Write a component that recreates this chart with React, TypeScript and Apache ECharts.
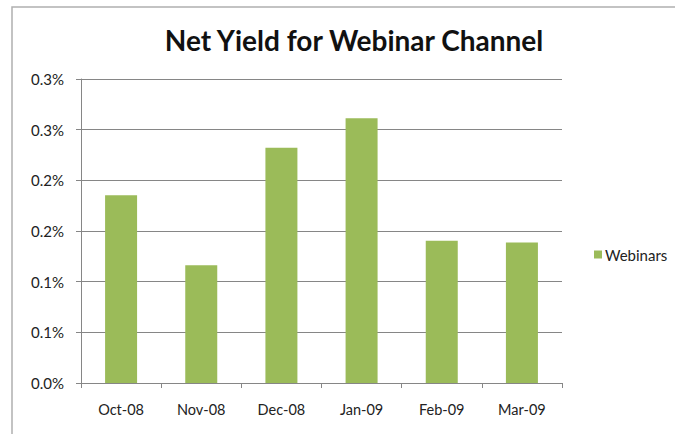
import React, { useEffect, useRef } from "react";
import * as echarts from "echarts";

const categories = ["Oct-08", "Nov-08", "Dec-08", "Jan-09", "Feb-09", "Mar-09"];
const webinarValues = [0.1854, 0.1163, 0.2321, 0.2612, 0.1403, 0.1387];
const seriesName = "Webinars";
const titleText = "Net Yield for Webinar Channel";

export default function App() {
  const ref = useRef<HTMLDivElement>(null);
  useEffect(() => {
    if (!ref.current) return;
    const chart = echarts.init(ref.current, null, { renderer: "svg" });
    const fontFamily = "Lato, 'Open Sans', 'DejaVu Sans', sans-serif";
    chart.setOption({
      animation: false,
      backgroundColor: "#ffffff",
      title: {
        text: titleText,
        left: 349,
        top: 21,
        textAlign: "center",
        textStyle: { fontFamily, fontWeight: "bold", fontSize: 28, color: "#111" },
      },
      legend: {
        orient: "vertical",
        left: 589,
        top: 242,
        itemWidth: 8,
        itemHeight: 8,
        itemGap: 4,
        icon: "rect",
        textStyle: { fontFamily, fontSize: 15, color: "#222", padding: [0, 0, 0, -2] },
        data: [seriesName],
      },
      grid: { left: 81, right: 113, top: 79, bottom: 51, containLabel: false },
      xAxis: {
        type: "category",
        data: categories,
        boundaryGap: true,
        axisLine: { show: true, lineStyle: { color: "#868686", width: 1 } },
        axisTick: { show: true, length: 5, alignWithLabel: false, lineStyle: { color: "#868686" } },
        axisLabel: { fontFamily, fontSize: 14.5, color: "#222", margin: 19 },
        splitLine: { show: false },
      },
      yAxis: {
        type: "value",
        min: 0,
        max: 0.3,
        interval: 0.05,
        axisLine: { show: true, lineStyle: { color: "#868686", width: 1 } },
        axisTick: { show: true, length: 5, inside: false, lineStyle: { color: "#868686" } },
        axisLabel: {
          fontFamily,
          fontSize: 15,
          color: "#222",
          margin: 17,
          formatter: (v: number) => (Math.round(v * 10 + 1e-9) / 10).toFixed(1) + "%",
        },
        splitLine: { show: true, lineStyle: { color: "#868686", width: 1 } },
      },
      series: [
        {
          name: seriesName,
          type: "bar",
          data: webinarValues,
          barWidth: 32,
          itemStyle: { color: "#9BBB59" },
        },
      ],
      graphic: [
        {
          type: "polyline",
          shape: { points: [[12, 434], [12, 7], [675, 7]] },
          style: { stroke: "#b0b0b0", lineWidth: 1.5, fill: "none" },
          silent: true,
        },
      ],
    });
    return () => chart.dispose();
  }, []);
  return (
    <div
      ref={ref}
      style={{ width: 675, height: 434, position: "absolute", left: 0, top: 0 }}
    />
  );
}
